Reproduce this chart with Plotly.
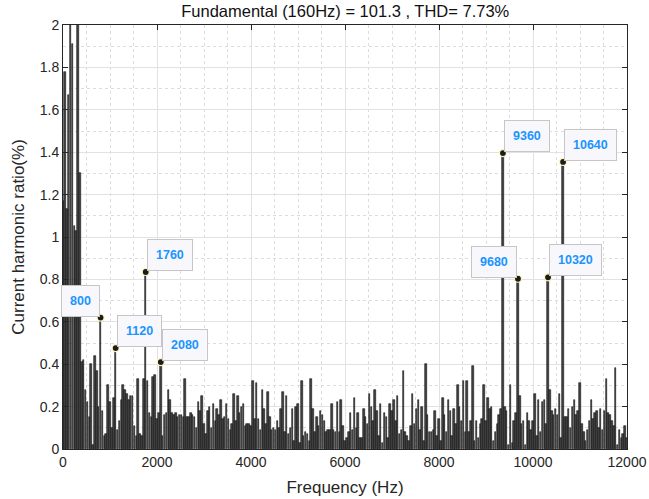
import plotly.graph_objects as go

# Harmonic spectrum: bars every 40 Hz from 0 to 12000 Hz
freqs = list(range(0, 12001, 40))

ratios = [
    # 0 - 360 Hz
    1.17, 1.78, 1.13, 1.67, 100.0, 1.91, 1.05, 1.03, 2.40, 1.30,
    # 400 - 760
    0.41, 0.42, 0.28, 0.22, 0.15, 0.40, 0.02, 0.44, 0.37, 0.20,
    # 800 - 1160
    0.62, 0.18, 0.06, 0.07, 0.30, 0.22, 0.10, 0.24, 0.476, 0.09,
    # 1200 - 1560
    0.13, 0.23, 0.30, 0.28, 0.26, 0.23, 0.25, 0.25, 0.11, 0.06,
    # 1600 - 1960
    0.33, 0.07, 0.06, 0.33, 0.835, 0.32, 0.17, 0.15, 0.34, 0.35,
    # 2000 - 2360
    0.14, 0.17, 0.41, 0.06, 0.16, 0.17, 0.28, 0.23, 0.17, 0.16,
    # 2400 - 2760
    0.17, 0.15, 0.16, 0.16, 0.15, 0.33, 0.15, 0.15, 0.17, 0.16,
    # 2800 - 3160
    0.15, 0.10, 0.22, 0.18, 0.25, 0.12, 0.07, 0.18, 0.20, 0.10,
    # 3200 - 3560
    0.21, 0.13, 0.19, 0.16, 0.23, 0.14, 0.15, 0.21, 0.14, 0.09,
    # 3600 - 3960
    0.12, 0.26, 0.13, 0.25, 0.17, 0.20, 0.21, 0.11, 0.12, 0.12,
    # 4000 - 4360
    0.11, 0.32, 0.14, 0.31, 0.14, 0.09, 0.28, 0.19, 0.12, 0.27,
    # 4400 - 4760
    0.15, 0.09, 0.10, 0.09, 0.13, 0.10, 0.19, 0.27, 0.08, 0.25,
    # 4800 - 5160
    0.07, 0.10, 0.19, 0.04, 0.20, 0.21, 0.03, 0.32, 0.06, 0.08,
    # 5200 - 5560
    0.07, 0.04, 0.33, 0.19, 0.08, 0.15, 0.11, 0.18, 0.16, 0.13,
    # 5600 - 5960
    0.08, 0.09, 0.09, 0.21, 0.09, 0.08, 0.22, 0.08, 0.23, 0.11,
    # 6000 - 6360
    0.04, 0.05, 0.08, 0.17, 0.09, 0.24, 0.10, 0.17, 0.05, 0.05,
    # 6400 - 6760
    0.19, 0.15, 0.12, 0.26, 0.20, 0.13, 0.28, 0.18, 0.06, 0.21,
    # 6800 - 7160
    0.03, 0.17, 0.15, 0.05, 0.21, 0.18, 0.23, 0.13, 0.25, 0.07,
    # 7200 - 7560
    0.09, 0.37, 0.08, 0.06, 0.04, 0.11, 0.26, 0.12, 0.19, 0.23,
    # 7600 - 7960
    0.09, 0.20, 0.04, 0.40, 0.16, 0.08, 0.08, 0.09, 0.18, 0.06,
    # 8000 - 8360
    0.14, 0.04, 0.24, 0.16, 0.08, 0.23, 0.18, 0.06, 0.19, 0.12,
    # 8400 - 8760
    0.30, 0.20, 0.13, 0.32, 0.08, 0.32, 0.08, 0.13, 0.39, 0.04,
    # 8800 - 9160
    0.13, 0.05, 0.12, 0.14, 0.30, 0.13, 0.24, 0.19, 0.20, 0.04,
    # 9200 - 9560
    0.08, 0.12, 0.16, 0.19, 1.396, 0.20, 0.18, 0.02, 0.30, 0.03,
    # 9600 - 9960
    0.13, 0.17, 0.803, 0.25, 0.12, 0.13, 0.02, 0.17, 0.13, 0.09,
    # 10000 - 10360
    0.13, 0.26, 0.06, 0.23, 0.08, 0.22, 0.23, 0.12, 0.81, 0.28,
    # 10400 - 10760
    0.18, 0.16, 0.19, 0.16, 0.26, 0.05, 1.354, 0.15, 0.15, 0.19,
    # 10800 - 11160
    0.10, 0.20, 0.23, 0.16, 0.18, 0.31, 0.12, 0.08, 0.04, 0.09,
    # 11200 - 11560
    0.13, 0.23, 0.14, 0.17, 0.18, 0.10, 0.19, 0.09, 0.18, 0.33,
    # 11600 - 11960
    0.17, 0.16, 0.13, 0.11, 0.38, 0.02, 0.09, 0.05, 0.07, 0.11,
    # 12000
    0.05,
]

# Data tips
tip_freqs = [800, 1120, 1760, 2080, 9360, 9680, 10320, 10640]
tip_side = ["right", "left", "left", "left", "left", "right", "left", "left"]

x_ticks = [0, 2000, 4000, 6000, 8000, 10000, 12000]
y_ticks = [0, 0.2, 0.4, 0.6, 0.8, 1, 1.2, 1.4, 1.6, 1.8, 2]

title_text = "Fundamental (160Hz) = 101.3 , THD= 7.73%"
x_title = "Frequency (Hz)"
y_title = "Current harmonic ratio(%)"

FONT = "Liberation Sans, Arial, Helvetica, sans-serif"
AX = "#262626"

fig = go.Figure()
fig.add_trace(go.Bar(
    x=freqs, y=ratios, width=32,
    marker=dict(color="#444444", line=dict(color="#111111", width=0.6)),
    showlegend=False, hoverinfo="x+y",
))

tip_vals = [ratios[freqs.index(f)] for f in tip_freqs]
fig.add_trace(go.Scatter(
    x=tip_freqs, y=tip_vals, mode="markers",
    marker=dict(size=7, color="#1c1c1c", line=dict(color="#fff6c0", width=1.2)),
    showlegend=False, hoverinfo="skip",
))

annotations = []
for f, v, side in zip(tip_freqs, tip_vals, tip_side):
    annotations.append(dict(
        x=f, y=v, xref="x", yref="y", text=str(f), showarrow=False,
        xanchor=side, yanchor="bottom",
        xshift=(1 if side == "left" else -1), yshift=1,
        bgcolor="#f8f8fc", bordercolor="#c6c6c6", borderwidth=1, borderpad=8,
        font=dict(family=FONT, size=12.5, color="#1a94ff", weight="bold"),
    ))

fig.update_layout(
    width=649, height=499,
    margin=dict(l=63, r=22, t=25, b=50, autoexpand=False),
    paper_bgcolor="white", plot_bgcolor="white",
    font=dict(family=FONT, color=AX),
    bargap=0,
    title=dict(text=title_text, x=0.532, xanchor="center", y=0.977, yanchor="middle",
               font=dict(family=FONT, size=16.5, color="#111111")),
    annotations=annotations,
    xaxis=dict(
        range=[0, 12000], tickvals=x_ticks, ticktext=[str(t) for t in x_ticks],
        ticks="inside", ticklen=5, tickcolor=AX, showline=True, linecolor=AX,
        linewidth=1, mirror="ticks", showgrid=True, gridcolor="#e2e2e2",
        zeroline=False, tickfont=dict(size=14, color=AX), automargin=False,
        title=dict(text=x_title, font=dict(size=17, color=AX), standoff=12),
        minor=dict(dtick=500, showgrid=True, gridcolor="#dcdcdc", griddash="dot", gridwidth=1),
    ),
    yaxis=dict(
        range=[0, 2], tickvals=y_ticks, ticktext=[("%g" % t) for t in y_ticks],
        ticks="inside", ticklen=5, tickcolor=AX, showline=True, linecolor=AX,
        linewidth=1, mirror="ticks", showgrid=True, gridcolor="#e2e2e2",
        zeroline=False, tickfont=dict(size=14, color=AX), automargin=False,
        title=dict(text=y_title, font=dict(size=17, color=AX), standoff=10),
        minor=dict(dtick=0.1, showgrid=True, gridcolor="#dcdcdc", griddash="dot", gridwidth=1),
    ),
)

fig.write_html("out.html")
